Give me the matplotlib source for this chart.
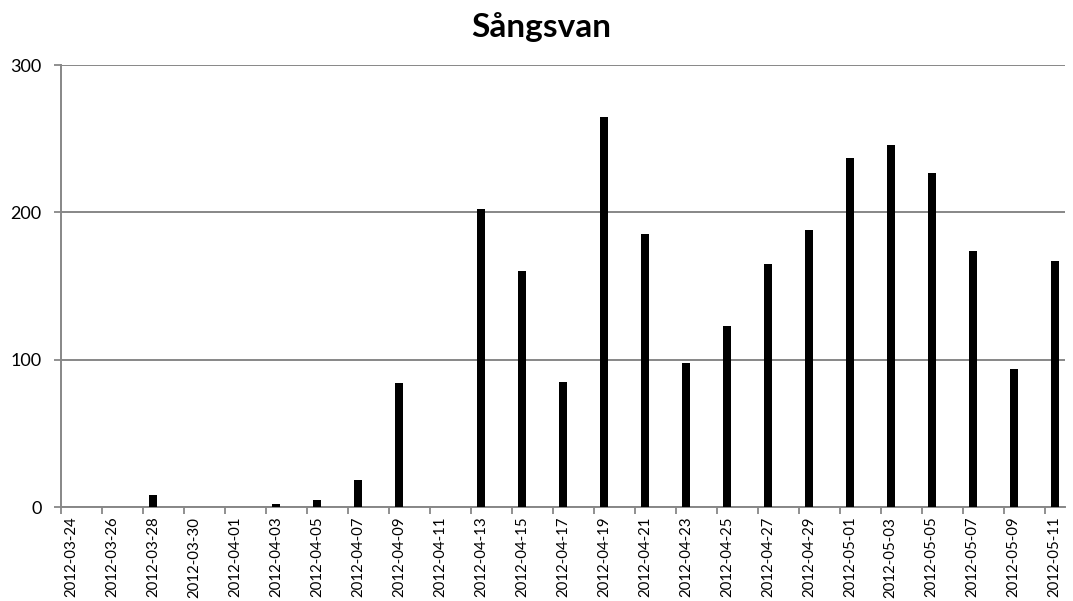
import matplotlib
matplotlib.use("Agg")
import matplotlib.pyplot as plt
import matplotlib.dates as mdates
import numpy as np

title = "Sångsvan"
dates = ["2012-03-28", "2012-04-03", "2012-04-05", "2012-04-07", "2012-04-09",
         "2012-04-13", "2012-04-15", "2012-04-17", "2012-04-19", "2012-04-21",
         "2012-04-23", "2012-04-25", "2012-04-27", "2012-04-29", "2012-05-01",
         "2012-05-03", "2012-05-05", "2012-05-07", "2012-05-09", "2012-05-11"]
counts = [8, 2, 5, 18, 84, 202, 160, 85, 265, 185, 98, 123, 165, 188, 237,
          246, 227, 174, 94, 167]
axis_start = "2012-03-24"
axis_end = "2012-05-11"
yticks = [0, 100, 200, 300]

plt.rcParams['font.family'] = ['Lato', 'DejaVu Sans']

fig = plt.figure(figsize=(10.73, 6.01), dpi=100)
ax = fig.add_axes([61/1073, 1-507/601, (1065-61)/1073, (507-65)/601])

x = mdates.datestr2num(dates)
ax.bar(x, counts, width=0.4, color='black', zorder=3)

x0 = mdates.datestr2num(axis_start)
x1 = mdates.datestr2num(axis_end)
ax.set_xlim(x0 - 0.5, x1 + 0.5)
ax.set_ylim(0, 300)

label_days = np.arange(x0, x1 + 1, 2)
ax.set_xticks(label_days - 0.5)
ax.set_xticklabels([])
ax.set_xticks(label_days, minor=True)
ax.set_xticklabels([mdates.num2date(d).strftime("%Y-%m-%d") for d in label_days],
                   minor=True, rotation=90, fontsize=10.8)
ax.tick_params(axis='x', which='major', length=5, width=1.3, color='#878787', direction='out')
ax.tick_params(axis='x', which='minor', length=0, pad=7)

ax.set_yticks(yticks)
ax.set_yticklabels([str(v) for v in yticks], fontsize=13)
ax.tick_params(axis='y', length=5, width=1.3, color='#878787', pad=9)

ax.grid(axis='y', color='#878787', linewidth=1.4, zorder=1)
for s in ['top', 'right']:
    ax.spines[s].set_visible(False)
for s in ['left', 'bottom']:
    ax.spines[s].set_color('#878787')
    ax.spines[s].set_linewidth(1.4)

fig.text(541/1073, 1-27/601, title, ha='center', va='center', fontsize=24, fontweight='bold')

fig.savefig("out.png", dpi=100)
